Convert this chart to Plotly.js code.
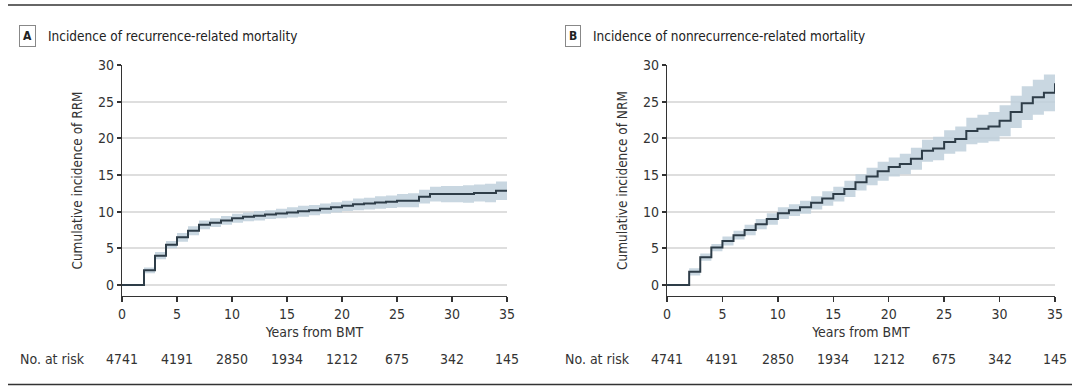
<!DOCTYPE html>
<html>
<head>
<meta charset="utf-8">
<script src="https://cdn.plot.ly/plotly-3.0.1.min.js"></script>
<style>html,body{margin:0;padding:0;background:#fff;}#chart{width:1076px;height:387px;}</style>
</head>
<body>
<div id="chart"></div>
<script>
// ---- data ----
const years = [0,1,2,3,4,5,6,7,8,9,10,11,12,13,14,15,16,17,18,19,20,21,22,23,24,25,26,27,28,29,30,31,32,33,34,35];

const rrmEstimate = [0,0,2.0,4.0,5.5,6.5,7.4,8.2,8.5,8.8,9.1,9.3,9.45,9.6,9.75,9.9,10.05,10.2,10.4,10.6,10.8,11.0,11.1,11.25,11.35,11.5,11.5,12.05,12.4,12.4,12.4,12.4,12.55,12.55,12.85,12.85];
const rrmUpper    = [0,0,2.4,4.5,6.0,7.1,8.0,8.8,9.1,9.4,9.7,9.9,10.1,10.2,10.4,10.6,10.8,10.9,11.1,11.3,11.5,11.8,11.9,12.1,12.2,12.4,12.5,13.0,13.4,13.5,13.5,13.6,13.7,13.8,14.1,14.2];
const rrmLower    = [0,0,1.6,3.5,5.0,5.9,6.8,7.6,7.9,8.2,8.5,8.7,8.8,9.0,9.1,9.2,9.3,9.5,9.7,9.9,10.1,10.2,10.3,10.4,10.5,10.6,10.6,11.1,11.4,11.3,11.3,11.2,11.4,11.3,11.6,11.5];

const nrmEstimate = [0,0,1.8,3.8,5.1,6.0,6.8,7.5,8.3,9.0,9.8,10.2,10.6,11.2,11.8,12.4,13.1,14.0,14.8,15.5,16.1,16.5,17.2,18.3,18.6,19.5,19.9,21.0,21.3,21.6,22.4,23.6,24.8,25.6,26.2,27.5];
const nrmUpper    = [0,0,2.3,4.3,5.6,6.6,7.4,8.2,9.0,9.8,10.6,11.0,11.5,12.1,12.8,13.4,14.2,15.1,16.0,16.8,17.4,17.9,18.7,19.8,20.2,21.1,21.6,22.8,23.2,23.6,24.5,25.8,27.1,28.0,28.7,30.0];
const nrmLower    = [0,0,1.3,3.3,4.6,5.4,6.2,6.8,7.6,8.2,9.0,9.4,9.7,10.3,10.8,11.4,12.0,12.9,13.6,14.2,14.8,15.1,15.7,16.8,17.0,17.9,18.2,19.2,19.4,19.6,20.3,21.4,22.5,23.2,23.7,24.9];

const riskYears  = [0,5,10,15,20,25,30,35];
const riskCounts = ["4741","4191","2850","1934","1212","675","342","145"];

const panelLetters = ["A","B"];
const panelTitles  = ["Incidence of recurrence-related mortality","Incidence of nonrecurrence-related mortality"];
const yTitles      = ["Cumulative incidence of RRM","Cumulative incidence of NRM"];
const xTitle       = "Years from BMT";
const riskLabel    = "No. at risk";

// ---- styling ----
const FONT = "'DejaVu Sans Condensed', 'Liberation Sans Narrow', sans-serif";
const W = 1076, H = 387;
const px = v => v / W;
const py = v => 1 - v / H;
const lineColor = "#2e3d48";
const bandColor = "rgba(192,208,220,0.85)";

function bandTraces(xa, ya, lower, upper, est) {
  return [
    {x: years, y: lower, xaxis: xa, yaxis: ya, type: "scatter", mode: "lines",
     line: {shape: "hv", width: 0, color: bandColor}, hoverinfo: "skip", showlegend: false},
    {x: years, y: upper, xaxis: xa, yaxis: ya, type: "scatter", mode: "lines", fill: "tonexty",
     fillcolor: bandColor, line: {shape: "hv", width: 0, color: bandColor}, hoverinfo: "skip", showlegend: false},
    {x: years, y: est, xaxis: xa, yaxis: ya, type: "scatter", mode: "lines",
     line: {shape: "hv", width: 2, color: lineColor}, showlegend: false}
  ];
}

const data = [].concat(
  bandTraces("x", "y", rrmLower, rrmUpper, rrmEstimate),
  bandTraces("x2", "y2", nrmLower, nrmUpper, nrmEstimate)
);

function xAxis(domain, anchor) {
  return {
    domain: domain, anchor: anchor, range: [0, 35], tickvals: [0,5,10,15,20,25,30,35],
    showgrid: false, zeroline: false, showline: true, linecolor: "#333", linewidth: 1.2,
    ticks: "outside", ticklen: 5, tickwidth: 1.5, tickcolor: "#333",
    tickfont: {family: FONT, size: 14, color: "#333"},
    title: {text: xTitle, font: {family: FONT, size: 14, color: "#333"}, standoff: 6},
    fixedrange: true
  };
}
function yAxis(domain, anchor, title) {
  return {
    domain: domain, anchor: anchor, range: [-1.5, 30], tickvals: [0,5,10,15,20,25,30],
    showgrid: true, gridcolor: "#dedede", gridwidth: 2, zeroline: false,
    showline: true, linecolor: "#333", linewidth: 1.2,
    ticks: "outside", ticklen: 4, tickwidth: 2, tickcolor: "#333",
    tickfont: {family: FONT, size: 14, color: "#333"},
    title: {text: title, font: {family: FONT, size: 13.5, color: "#333"}, standoff: 12},
    fixedrange: true
  };
}

const yDom = [py(296), py(65)];
const layout = {
  width: W, height: H,
  margin: {l: 0, r: 0, t: 0, b: 0},
  paper_bgcolor: "#fff", plot_bgcolor: "#fff",
  font: {family: FONT, color: "#333"},
  showlegend: false,
  xaxis: xAxis([px(122), px(507)], "y"),
  yaxis: yAxis(yDom, "x", yTitles[0]),
  xaxis2: xAxis([px(667), px(1055)], "y2"),
  yaxis2: yAxis(yDom, "x2", yTitles[1]),
  shapes: [
    {type: "line", xref: "paper", yref: "paper", x0: px(8), x1: px(1072), y0: py(5), y1: py(5), line: {color: "#333", width: 1.5}},
    {type: "line", xref: "paper", yref: "paper", x0: px(8), x1: px(1072), y0: py(384.5), y1: py(384.5), line: {color: "#333", width: 1.5}}
  ],
  annotations: []
};

const letterX = [27.5, 573];
const titleX = [46, 591];
const riskLabelX = [18, 563];
const axNames = ["x", "x2"];
for (let p = 0; p < 2; p++) {
  layout.annotations.push({
    xref: "paper", yref: "paper", x: px(letterX[p]), y: py(36), xanchor: "center", yanchor: "middle",
    text: "<b>" + panelLetters[p] + "</b>", showarrow: false,
    font: {family: FONT, size: 12, color: "#222"},
    bordercolor: "#888", borderwidth: 1, borderpad: 3, bgcolor: "#fff"
  });
  layout.annotations.push({
    xref: "paper", yref: "paper", x: px(titleX[p]), y: py(36), xanchor: "left", yanchor: "middle",
    text: panelTitles[p], showarrow: false,
    font: {family: FONT, size: 13.5, color: "#222"}
  });
  layout.annotations.push({
    xref: "paper", yref: "paper", x: px(riskLabelX[p]), y: py(358.7), xanchor: "left", yanchor: "middle",
    text: riskLabel, showarrow: false,
    font: {family: FONT, size: 14, color: "#333"}
  });
  for (let i = 0; i < riskYears.length; i++) {
    layout.annotations.push({
      xref: axNames[p], yref: "paper", x: riskYears[i], y: py(358.7), xanchor: "center", yanchor: "middle",
      text: riskCounts[i], showarrow: false,
      font: {family: FONT, size: 14, color: "#333"}
    });
  }
}

Plotly.newPlot("chart", data, layout, {staticPlot: true, displayModeBar: false});
</script>
</body>
</html>
